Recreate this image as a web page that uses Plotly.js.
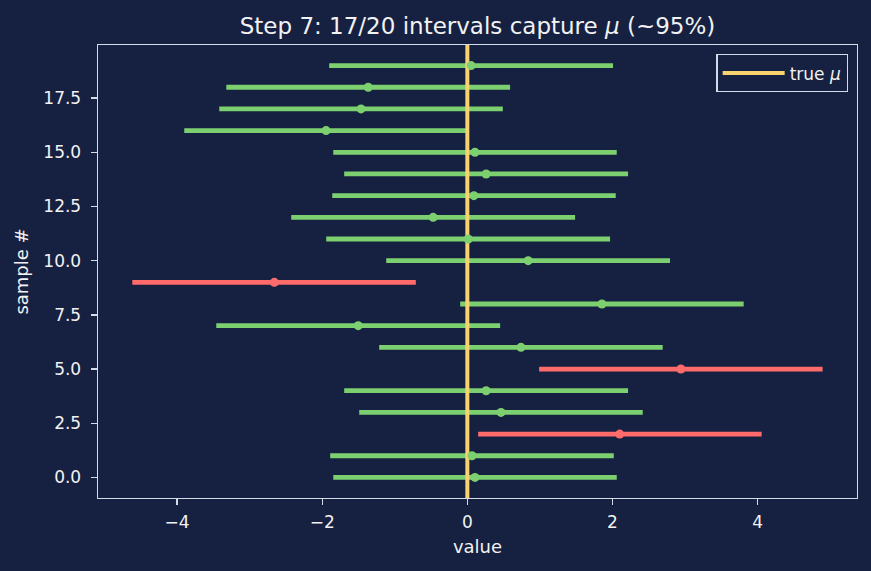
<!DOCTYPE html>
<html>
<head>
<meta charset="utf-8">
<script src="https://cdn.plot.ly/plotly-3.0.1.min.js"></script>
<style>html,body{margin:0;padding:0;background:#162040;}</style>
</head>
<body>
<div id="chart" style="width:871px;height:571px;"></div>
<script>
// sample index 0..19
const sampleIdx = [0,1,2,3,4,5,6,7,8,9,10,11,12,13,14,15,16,17,18,19];
const sampleMean = [0.105,0.064,2.10,0.464,0.259,2.943,0.739,-1.504,1.855,-2.66,0.838,0.011,-0.471,0.09,0.259,0.105,-1.947,-1.465,-1.366,0.052];
const lowerCI = [-1.848,-1.890,0.149,-1.490,-1.697,0.989,-1.215,-3.460,-0.099,-4.617,-1.118,-1.945,-2.427,-1.862,-1.697,-1.848,-3.901,-3.419,-3.322,-1.904];
const upperCI = [2.059,2.018,4.056,2.417,2.215,4.896,2.692,0.452,3.808,-0.710,2.793,1.967,1.485,2.045,2.215,2.059,0.012,0.489,0.589,2.008];
const trueMu = 0;

const GREEN = '#7dd06f', RED = '#ff6b6b', YELLOW = '#f8d26e';
const BG = '#162040', AX = '#d3dae8', TXT = '#f2f2f2';

const captured = sampleIdx.map(i => lowerCI[i] <= trueMu && upperCI[i] >= trueMu);

function segs(flag) {
  const x = [], y = [];
  sampleIdx.forEach(i => {
    if (captured[i] === flag) { x.push(lowerCI[i], upperCI[i], null); y.push(i, i, null); }
  });
  return {x, y};
}
function pts(flag) {
  const x = [], y = [];
  sampleIdx.forEach(i => { if (captured[i] === flag) { x.push(sampleMean[i]); y.push(i); } });
  return {x, y};
}
const gS = segs(true), rS = segs(false), gP = pts(true), rP = pts(false);

const traces = [
  {type:'scatter', mode:'lines', x:gS.x, y:gS.y, line:{color:GREEN, width:4.8}, showlegend:false, hoverinfo:'skip'},
  {type:'scatter', mode:'lines', x:rS.x, y:rS.y, line:{color:RED, width:4.8}, showlegend:false, hoverinfo:'skip'},
  {type:'scatter', mode:'lines', x:[trueMu, trueMu], y:[-5, 25], line:{color:YELLOW, width:4}, name:'true <i>μ</i>'},
  {type:'scatter', mode:'markers', x:gP.x, y:gP.y, marker:{color:GREEN, size:9}, showlegend:false},
  {type:'scatter', mode:'markers', x:rP.x, y:rP.y, marker:{color:RED, size:9}, showlegend:false}
];

const axisCommon = {
  showline:true, mirror:true, linecolor:AX, linewidth:1.4,
  ticks:'outside', ticklen:6, tickwidth:1.3, tickcolor:AX,
  showgrid:false, zeroline:false,
  tickfont:{family:'DejaVu Sans', size:17, color:TXT}
};

const layout = {
  width:871, height:571,
  paper_bgcolor:BG, plot_bgcolor:BG,
  margin:{l:98, r:14, t:45, b:73},
  font:{family:'DejaVu Sans', color:TXT, size:18},
  title:{text:'Step 7: 17/20 intervals capture <i>μ</i> (~95%)', font:{family:'DejaVu Sans', size:23, color:TXT}, xref:'paper', x:0.5, xanchor:'center', yref:'container', y:0.955, yanchor:'middle'},
  xaxis:Object.assign({}, axisCommon, {range:[-5.09, 5.37], dtick:2, tick0:0, ticklabelstandoff:2, title:{text:'value', font:{size:18, color:TXT}, standoff:9}}),
  yaxis:Object.assign({}, axisCommon, {range:[-0.95, 19.95], dtick:2.5, tick0:0, tickformat:'.1f', ticklabelstandoff:6, title:{text:'sample #', font:{size:18, color:TXT}, standoff:10}}),
  showlegend:true,
  legend:{x:0.9885, y:0.98, xanchor:'right', yanchor:'top', bgcolor:BG, bordercolor:AX, borderwidth:1.4, itemwidth:62, font:{size:17, color:TXT}}
};

Plotly.newPlot('chart', traces, layout, {displayModeBar:false, staticPlot:true});
</script>
</body>
</html>
